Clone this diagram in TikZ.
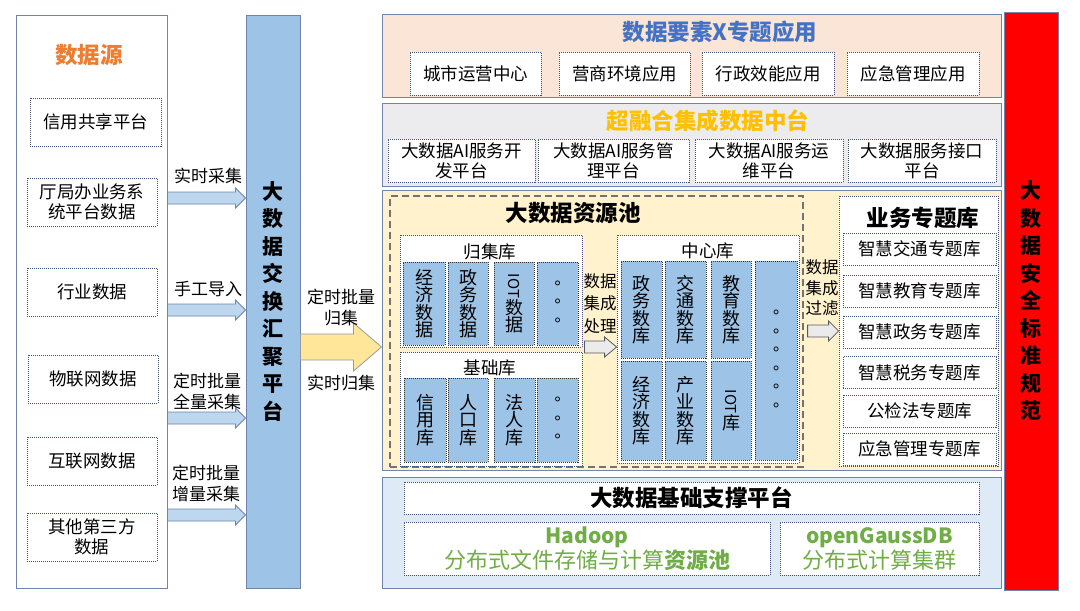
\documentclass[tikz,border=0pt]{standalone}
\usepackage{fontspec}
\setmainfont{Noto Sans CJK SC}
\newfontfamily\tcfont{Noto Sans CJK TC}
\usepackage{graphicx}
\usepackage{tikz}
\usetikzlibrary{calc}
\definecolor{framec}{RGB}{112,132,172}
\definecolor{dotc}{RGB}{60,80,115}
\definecolor{srcorange}{RGB}{237,125,49}
\definecolor{appblue}{RGB}{68,114,196}
\definecolor{hubgold}{RGB}{255,192,0}
\definecolor{basegreen}{RGB}{112,173,71}
\definecolor{cellblue}{RGB}{157,195,230}
\definecolor{arrowblue}{RGB}{189,215,238}
\definecolor{appfill}{RGB}{251,229,214}
\definecolor{hubfill}{RGB}{236,236,238}
\definecolor{poolfill}{RGB}{255,242,204}
\definecolor{basefill}{RGB}{222,235,247}
\definecolor{yellowarr}{RGB}{255,230,153}

\newcommand\fs[2]{\fontsize{#1}{#2}\selectfont}
\newcommand\blockarrow[6]{%
  \draw[#1] let \p1=#2, \p2=#3 in
    (\x1,\y1+#4) -- (\x2-#6,\y1+#4) -- (\x2-#6,\y1+#5) -- (\x2,\y1)
    -- (\x2-#6,\y1-#5) -- (\x2-#6,\y1-#4) -- (\x1,\y1-#4) -- cycle;}

\begin{document}
\begin{tikzpicture}[x=1pt, y=-1pt,
    panel/.style={draw=framec, line width=1pt, inner sep=0pt},
    dotbox/.style={draw=dotc, dash pattern=on 1pt off 1pt, line width=0.8pt, fill=white, align=center, inner sep=0pt, font=\fs{17.5}{20}},
    cell/.style={dotbox, fill=cellblue, draw=black!80, font=\fs{18}{17.5}},
    dotcell/.style={cell, font=\tcfont\fs{16}{18.5}},
    title/.style={font=\bfseries\fs{22.5}{26}},
    vbar/.style={panel, align=center, font=\bfseries\fs{21}{27.5}},
    lbl/.style={align=center, font=\fs{17}{21}},
    bluearr/.style={draw=framec, fill=arrowblue, line width=0.8pt},
    grayarr/.style={draw=black!65, fill=black!8, line width=0.8pt},
    yelarr/.style={draw=black!40, fill=yellowarr, line width=0.8pt}
]
\fill[white] (0,0) rectangle (1080,611);
\useasboundingbox (0,0) rectangle (1080,611);

% data sources
\node[panel, fill=white, minimum width=151, minimum height=573] (src) at (91.5,301.5) {};
\node[title, text=srcorange] (srct) at (89,55) {数据源};
\node[dotbox, minimum width=131, minimum height=48] (s1) at (95.5,122) {信用共享平台};
\node[dotbox, minimum width=130, minimum height=48] (s2) at (92,202) {厅局办业务系\\统平台数据};
\node[dotbox, minimum width=130, minimum height=48] (s3) at (92,292) {行业数据};
\node[dotbox, minimum width=130, minimum height=48] (s4) at (93,379) {物联网数据};
\node[dotbox, minimum width=130, minimum height=48] (s5) at (92,461) {互联网数据};
\node[dotbox, minimum width=130, minimum height=48] (s6) at (92,537) {其他第三方\\数据};

\node[vbar, fill=cellblue, minimum width=54, minimum height=573] (exch) at (273,301.5) {大\\数\\据\\交\\换\\汇\\聚\\平\\台};

\coordinate (ya1) at (0,198);
\coordinate (ya2) at (0,310);
\coordinate (ya3) at (0,418);
\coordinate (ya4) at (0,515);
\blockarrow{bluearr}{(src.east |- ya1)}{(exch.west |- ya1)}{6pt}{10pt}{10pt}
\blockarrow{bluearr}{(src.east |- ya2)}{(exch.west |- ya2)}{6pt}{10pt}{10pt}
\blockarrow{bluearr}{(src.east |- ya3)}{(exch.west |- ya3)}{6pt}{10pt}{10pt}
\blockarrow{bluearr}{(src.east |- ya4)}{(exch.west |- ya4)}{6pt}{10pt}{10pt}
\node[lbl] (l1) at (208,176) {实时采集};
\node[lbl] (l2) at (208,289) {手工导入};
\node[lbl] (l3) at (207,391.5) {定时批量\\全量采集};
\node[lbl] (l4) at (206,483) {定时批量\\增量采集};

% application layer
\node[panel, fill=appfill, minimum width=619, minimum height=83] (app) at (691.5,55.5) {};
\node[title, text=appblue] (appt) at (720,32) {数据要素X专题应用};
\node[dotbox, minimum width=131, minimum height=43] (a1) at (475.5,73.5) {城市运营中心};
\node[dotbox, minimum width=131, minimum height=43] (a2) at (624.5,73.5) {营商环境应用};
\node[dotbox, minimum width=132, minimum height=43] (a3) at (768,73.5) {行政效能应用};
\node[dotbox, minimum width=132, minimum height=43] (a4) at (913,73.5) {应急管理应用};

% data middle platform
\node[panel, fill=hubfill, minimum width=619, minimum height=83] (hub) at (691.5,144.5) {};
\node[title, text=hubgold] (hubt) at (708,121) {超融合集成数据中台};
\node[dotbox, minimum width=147, minimum height=43] (m1) at (461.5,160.5) {大数据AI服务开\\发平台};
\node[dotbox, minimum width=151, minimum height=43] (m2) at (613.5,160.5) {大数据AI服务管\\理平台};
\node[dotbox, minimum width=148, minimum height=43] (m3) at (769,160.5) {大数据AI服务运\\维平台};
\node[dotbox, minimum width=148, minimum height=43] (m4) at (922,160.5) {大数据服务接口\\平台};

% resource pool
\node[panel, fill=poolfill, minimum width=619, minimum height=280] (mid) at (691.5,330) {};
\node[draw=black!55, dash pattern=on 7pt off 4pt, line width=1.2pt, minimum width=413, minimum height=271] (pool) at (596.5,331.5) {};
\node[title] (poolt) at (573,213) {大数据资源池};

\node[dotbox, minimum width=182, minimum height=112] (gj) at (491,291) {};
\node[font=\fs{17.5}{20}] (gjt) at (490,252) {归集库};
\node[cell, minimum width=42, minimum height=83] (g1) at (424,303.5) {经\\济\\数\\据};
\node[cell, minimum width=40, minimum height=83] (g2) at (468,303.5) {政\\务\\数\\据};
\node[cell, minimum width=40, minimum height=83] (g3) at (514,303.5) {{\fs{15}{15}\rotatebox{-90}{IOT}}\\数\\据};
\node[dotcell, minimum width=41, minimum height=83] (g4) at (557.5,303.5) {。\\。\\。};

\node[dotbox, minimum width=182, minimum height=114] (jc) at (491,409) {};
\node[font=\fs{17.5}{20}] (jct) at (490,368) {基础库};
\node[cell, minimum width=42, minimum height=84] (j1) at (425,420) {信\\用\\库};
\node[cell, minimum width=40, minimum height=84] (j2) at (468,420) {人\\口\\库};
\node[cell, minimum width=41, minimum height=84] (j3) at (514.5,420) {法\\人\\库};
\node[dotcell, minimum width=41, minimum height=84] (j4) at (557.5,420) {。\\。\\。};

\node[dotbox, minimum width=182, minimum height=228] (zx) at (708,349) {};
\node[font=\fs{17.5}{20}] (zxt) at (708,251) {中心库};
\node[cell, minimum width=41, minimum height=97] (z1) at (641.5,309.5) {政\\务\\数\\库};
\node[cell, minimum width=41, minimum height=97] (z2) at (685.5,309.5) {交\\通\\数\\库};
\node[cell, minimum width=40, minimum height=97] (z3) at (731,309.5) {教\\育\\数\\库};
\node[cell, minimum width=41, minimum height=99] (z4) at (641.5,410.5) {经\\济\\数\\库};
\node[cell, minimum width=41, minimum height=99] (z5) at (685.5,410.5) {产\\业\\数\\库};
\node[cell, minimum width=40, minimum height=99] (z6) at (731,410.5) {{\fs{15}{15}\rotatebox{-90}{IOT}}\\库};
\node[dotcell, minimum width=42, minimum height=199] (z7) at (776,360.5) {。\\。\\。\\。\\。\\。};

\coordinate (yc) at (0,347);
\blockarrow{grayarr}{($(gj.east |- yc)+(2,0)$)}{(zx.west |- yc)}{6pt}{10pt}{12pt}
\node[align=center, font=\fs{16.5}{22.5}] (proct) at (600,303.5) {数据\\集成\\处理};

% business topics
\node[dotbox, minimum width=159, minimum height=270] (yw) at (918.5,331) {};
\node[title] (ywt) at (923,218) {业务专题库};
\node[dotbox, minimum width=153, minimum height=32] (y1) at (919.5,249) {智慧交通专题库};
\node[dotbox, minimum width=153, minimum height=32] (y2) at (919.5,291) {智慧教育专题库};
\node[dotbox, minimum width=153, minimum height=32] (y3) at (919.5,332) {智慧政务专题库};
\node[dotbox, minimum width=153, minimum height=32] (y4) at (919.5,372.5) {智慧税务专题库};
\node[dotbox, minimum width=153, minimum height=32] (y5) at (919.5,411) {公检法专题库};
\node[dotbox, minimum width=153, minimum height=32] (y6) at (919.5,449) {应急管理专题库};

\coordinate (yd) at (0,331);
\blockarrow{grayarr}{($(pool.east |- yd)+(4,0)$)}{(yw.west |- yd)}{6pt}{10pt}{10pt}
\node[align=center, font=\fs{16.5}{20.5}] (filtt) at (822,288) {数据\\集成\\过滤};

% exchange to pool
\coordinate (yb) at (0,347);
\blockarrow{yelarr}{(exch.east |- yb)}{(mid.west |- yb)}{13pt}{24pt}{28pt}
\node[lbl] (l5) at (341,307.5) {定时批量\\归集};
\node[lbl] (l6) at (341,383) {实时归集};

% base platform
\node[panel, fill=basefill, minimum width=619, minimum height=111] (base) at (691.5,532.5) {};
\node[dotbox, minimum width=575, minimum height=32, font=\bfseries\fs{22.5}{26}] (b0) at (691.5,498) {大数据基础支撑平台};
\node[dotbox, minimum width=366, minimum height=53, text=basegreen, font=\fs{22}{25}] (b1) at (587,548.5) {{\bfseries\fs{21}{25}Hadoop}\\分布式文件存储与计算{\bfseries 资源池}};
\node[dotbox, minimum width=199, minimum height=53, text=basegreen, font=\fs{22}{25}] (b2) at (879.5,548.5) {{\bfseries\fs{21}{25}openGaussDB}\\分布式计算集群};

% security standard
\node[vbar, fill=red, minimum width=54, minimum height=578] (sec) at (1031,301) {大\\数\\据\\安\\全\\标\\准\\规\\范};
\end{tikzpicture}
\end{document}
